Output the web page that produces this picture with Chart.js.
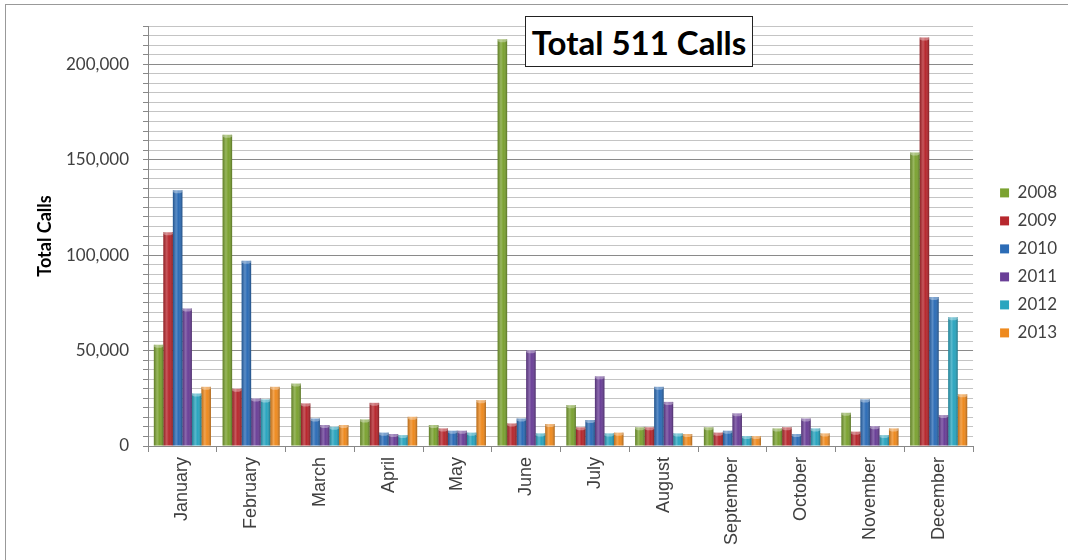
<!DOCTYPE html>
<html>
<head>
<meta charset="utf-8">
<script src="https://cdn.jsdelivr.net/npm/chart.js@4.4.1/dist/chart.umd.min.js"></script>
<style>
  body { margin: 0; background: #fff; }
  #wrap { position: relative; width: 1068px; height: 560px; }
  #frame { position: absolute; left: 5px; top: 4px; right: 0; bottom: 0; border-left: 1px solid #999; border-top: 1px solid #999; }
  #title {
    position: absolute; left: 525px; top: 16px; width: 226px; height: 49px;
    border: 1.5px solid #222; background: #fff;
    font: bold 33px Lato, sans-serif; color: #000;
    display: flex; align-items: center; justify-content: center;
  }
</style>
</head>
<body>
<div id="wrap">
  <div id="frame"></div>
  <canvas id="myChart" width="1068" height="560"></canvas>
  <div id="title">Total 511 Calls</div>
</div>
<script>
var months = ["January", "February", "March", "April", "May", "June", "July", "August", "September", "October", "November", "December"];
var years = ["2008", "2009", "2010", "2011", "2012", "2013"];

var calls2008 = [53000, 163000, 32700, 13900, 11000, 213000, 21400, 9800, 9800, 9200, 17400, 153700];
var calls2009 = [112000, 30000, 22300, 22600, 9200, 11800, 9800, 9800, 7000, 9800, 7500, 214000];
var calls2010 = [134000, 97000, 14400, 7000, 8000, 14400, 13600, 31000, 8000, 6300, 24400, 78000];
var calls2011 = [72000, 24900, 11000, 6300, 8000, 50100, 36500, 23100, 17100, 14400, 10400, 16200];
var calls2012 = [27500, 24400, 10100, 5700, 7000, 6600, 6600, 6600, 5200, 9200, 5700, 67500];
var calls2013 = [31000, 31000, 11000, 15300, 24000, 11500, 7000, 6300, 5200, 6600, 9200, 27100];

var yearColors = ["#7ba231", "#b7282e", "#2c6cb6", "#6a3f97", "#2aa5bf", "#ee8a1f"];
var series = [calls2008, calls2009, calls2010, calls2011, calls2012, calls2013];

// shading so the bars look like the little cylinders in the original
var cylinder = {
    id: 'cylinder',
    afterDatasetsDraw: function(chart) {
        var ctx = chart.ctx;
        chart.data.datasets.forEach(function(ds, i) {
            chart.getDatasetMeta(i).data.forEach(function(bar) {
                var left = bar.x - bar.width / 2;
                var g = ctx.createLinearGradient(left, 0, left + bar.width, 0);
                g.addColorStop(0, 'rgba(0,0,0,0.22)');
                g.addColorStop(0.35, 'rgba(255,255,255,0.22)');
                g.addColorStop(0.6, 'rgba(255,255,255,0)');
                g.addColorStop(1, 'rgba(0,0,0,0.3)');
                ctx.save();
                ctx.fillStyle = g;
                ctx.fillRect(left, bar.y, bar.width, bar.base - bar.y);
                ctx.beginPath();
                ctx.ellipse(bar.x, bar.y + 1, bar.width / 2, 2, 0, 0, Math.PI * 2);
                ctx.fillStyle = 'rgba(255,255,255,0.35)';
                ctx.fill();
                ctx.restore();
            });
        });
    }
};

var ctx = document.getElementById('myChart').getContext('2d');
var myChart = new Chart(ctx, {
    type: 'bar',
    data: {
        labels: months,
        datasets: years.map(function(y, i) {
            return {
                label: y,
                data: series[i],
                backgroundColor: yearColors[i],
                borderWidth: 0,
                categoryPercentage: 0.83,
                barPercentage: 1.0
            };
        })
    },
    options: {
        responsive: false,
        animation: false,
        layout: { padding: { left: 30, top: 26, right: 1, bottom: 4 } },
        plugins: {
            tooltip: { enabled: false },
            legend: {
                position: 'right',
                align: 'start',
                title: { display: true, text: '', padding: { top: 0, bottom: 133 } },
                labels: {
                    boxWidth: 9,
                    boxHeight: 9,
                    padding: 11,
                    color: '#404040',
                    font: { family: 'Lato', size: 17 }
                }
            }
        },
        scales: {
            x: {
                grid: { drawOnChartArea: false, offset: true, tickLength: 6, color: '#888' },
                border: { color: '#888' },
                ticks: {
                    minRotation: 90,
                    maxRotation: 90,
                    padding: 5,
                    color: '#404040',
                    font: { family: 'Liberation Sans', size: 18 }
                },
                afterFit: function(scale) { scale.height = 110; }
            },
            y: {
                min: 0,
                max: 220000,
                ticks: {
                    stepSize: 5000,
                    autoSkip: false,
                    padding: 14,
                    color: '#404040',
                    font: { family: 'Lato', size: 17 },
                    callback: function(v) { return v % 50000 === 0 ? v.toLocaleString('en-US') : ''; }
                },
                grid: {
                    tickLength: 5,
                    tickColor: '#888',
                    color: function(c) { return c.tick && c.tick.value % 50000 === 0 ? '#8a8a8a' : '#c4c4c4'; }
                },
                border: { color: '#888' },
                title: {
                    display: true,
                    text: 'Total Calls',
                    color: '#000',
                    font: { family: 'Lato', size: 18, weight: 'bold' },
                    padding: { top: 4, bottom: 0 }
                },
                afterFit: function(scale) { scale.width = 118; }
            },
            // empty axis, only keeps the gap between the plot and the legend
            gap: {
                type: 'linear',
                position: 'right',
                display: true,
                grid: { display: false },
                border: { display: false },
                ticks: { display: false },
                afterFit: function(scale) { scale.width = 16; }
            }
        }
    },
    plugins: [cylinder]
});
</script>
</body>
</html>
